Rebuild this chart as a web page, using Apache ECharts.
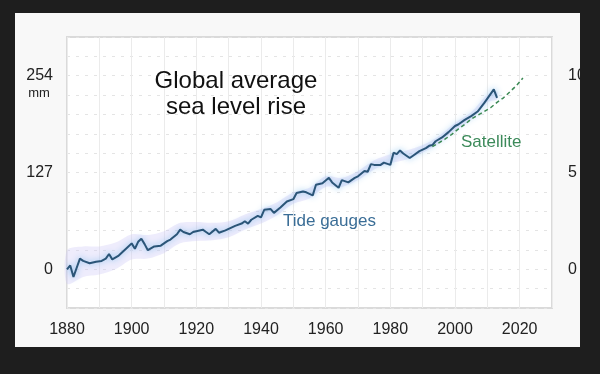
<!DOCTYPE html>
<html>
<head>
<meta charset="utf-8">
<script src="https://cdn.jsdelivr.net/npm/echarts@6/dist/echarts.min.js"></script>
<style>
  html, body { margin: 0; padding: 0; background: #1e1e1e; width: 600px; height: 374px; overflow: hidden; }
  #chart { position: absolute; left: 15px; top: 13px; width: 565px; height: 334px; background: #f8f8f8; }
</style>
</head>
<body>
<div id="chart"></div>
<script>
// ---- data (mm) ----
const tideYears = [1880,1881,1882,1883,1884,1885,1887,1889,1890.7,1892,1893,1894,1896,1897,1898.5,1900,1901,1902,1903,1904,1905,1907,1909,1911,1912,1914,1915,1916,1918,1919,1920,1922,1923,1924,1926,1927,1929,1930,1932,1934,1935,1936,1937,1939,1940,1941,1943,1944,1946,1948,1950,1951,1953,1954,1956,1957,1959,1961,1962,1964,1965,1967,1969,1970,1972,1973,1974,1975,1977,1978,1980,1981,1982,1983,1984,1986,1987,1989,1991,1992,1993,1994,1996,1998,2000,2001,2003,2005,2007,2009,2010,2012,2013];
const tideLevel = [0,5,-10,2,14,11,8,10,11,14,20,13,18,22,28,34,27,36,40,33,25,30,31,37,39,46,52,49,46,49,50,52,49,46,53,48,51,53,57,60,63,60,65,70,68,78,79,74,81,89,92,100,102,101,97,111,113,120,114,107,117,114,120,122,129,128,138,137,137,140,137,153,151,156,152,146,149,155,159,162,163,168,173,180,188,190,196,201,207,218,224,236,225];

const satYears = [1993,1995,1997,1999,2001,2003,2005,2007,2009,2011,2013,2015,2017,2019,2021];
const satLevel = [161,166,171,177,184,190,197,202,207,212,219,225,233,241,251];

const bandYears = [1880,1885,1890,1895,1900,1905,1910,1915,1920,1925,1930,1935,1940,1945,1950,1955,1960,1965,1970,1975,1980,1985,1990,1995,2000,2005,2010,2013];
const bandLow  = [-19,-10,-7,0,13,14,21,34,37,38,42,52,60,71,86,93,108,108,117,131,139,144,153,165,182,196,219,223];
const bandHigh = [25,30,30,35,46,45,50,61,62,61,63,72,79,88,101,107,122,120,129,143,151,156,163,175,192,206,229,233];

const xTickLabels = [1880,1900,1920,1940,1960,1980,2000,2020];
const yLeftTicks = [0,127,254];
const yRightTicks = [0,5,10];

const chart = echarts.init(document.getElementById('chart'));
const font = '"Liberation Sans", Arial, sans-serif';

const bandData = bandYears.map((y,i)=>[y, bandLow[i], bandHigh[i]]);

function renderBand(params, api) {
  if (params.dataIndex !== 0) return null;
  const top = [], bottom = [];
  for (let i = 0; i < bandYears.length; i++) {
    top.push(api.coord([bandYears[i], bandHigh[i]]));
    bottom.push(api.coord([bandYears[i], bandLow[i]]));
  }
  const pts = top.concat(bottom.reverse());
  return {
    type: 'polygon',
    shape: { points: pts, smooth: 0.3 },
    style: { fill: 'rgba(205,200,245,0.35)', stroke: 'none' },
    silent: true
  };
}

chart.setOption({
  animation: false,
  grid: { left: 52, top: 24, right: 28, bottom: 39, show: true, backgroundColor: '#ffffff', borderColor: '#dadada', borderWidth: 2, containLabel: false, outerBoundsMode: 'none' },
  xAxis: {
    type: 'value', min: 1880, max: 2030, interval: 10,
    axisLine: { show: false }, axisTick: { show: false },
    axisLabel: {
      margin: 14, color: '#222', fontSize: 16, fontFamily: font,
      formatter: v => xTickLabels.includes(Math.round(v)) ? String(Math.round(v)) : ''
    },
    splitLine: { show: true, lineStyle: { color: '#ebebeb', width: 1 } }
  },
  yAxis: [
    {
      type: 'value', min: -50.8, max: 304.8, interval: 25.4,
      axisLine: { show: false }, axisTick: { show: false },
      axisLabel: {
        margin: 14, color: '#222', fontSize: 16, fontFamily: font,
        formatter: v => { const t = yLeftTicks.find(t => Math.abs(t - v) < 0.5); return t === undefined ? '' : String(t); }
      },
      splitLine: { show: true, lineStyle: { color: '#e4e4e4', type: [3, 6], width: 1 } }
    },
    {
      type: 'value', min: -2, max: 12, interval: 1, position: 'right',
      axisLine: { show: false }, axisTick: { show: false },
      axisLabel: {
        margin: 16, color: '#222', fontSize: 16, fontFamily: font, hideOverlap: false,
        formatter: v => yRightTicks.includes(Math.round(v)) && Math.abs(v - Math.round(v)) < 0.01 ? String(Math.round(v)) : ''
      },
      splitLine: { show: false }
    }
  ],
  series: [
    { type: 'custom', data: bandData, renderItem: renderBand, encode: { x: 0, y: [1, 2] }, silent: true, z: 1 },
    { type: 'line', data: tideYears.map((y,i)=>[y, tideLevel[i]]), symbol: 'none', z: 3,
      lineStyle: { color: '#2b5578', width: 2, shadowColor: 'rgba(110,180,235,0.9)', shadowBlur: 6 } },
    { type: 'line', data: satYears.map((y,i)=>[y, satLevel[i]]), symbol: 'none', z: 4,
      lineStyle: { color: '#3c8a55', width: 1.5, type: [4, 3] } }
  ],
  graphic: [
    { type: 'text', z: 100, x: 221, y: 55, style: { text: 'Global average\nsea level rise', font: '24px ' + font, fill: '#111', textAlign: 'center', lineHeight: 26 } },
    { type: 'text', z: 100, x: 24, y: 74, style: { text: 'mm', font: '13px ' + font, fill: '#222', textAlign: 'center' } },
    { type: 'text', z: 100, x: 268, y: 200, style: { text: 'Tide gauges', font: '17px ' + font, fill: '#3a6d96' } },
    { type: 'text', z: 100, x: 446, y: 121, style: { text: 'Satellite', font: '17px ' + font, fill: '#3c8a5a' } }
  ]
});
</script>
</body>
</html>
